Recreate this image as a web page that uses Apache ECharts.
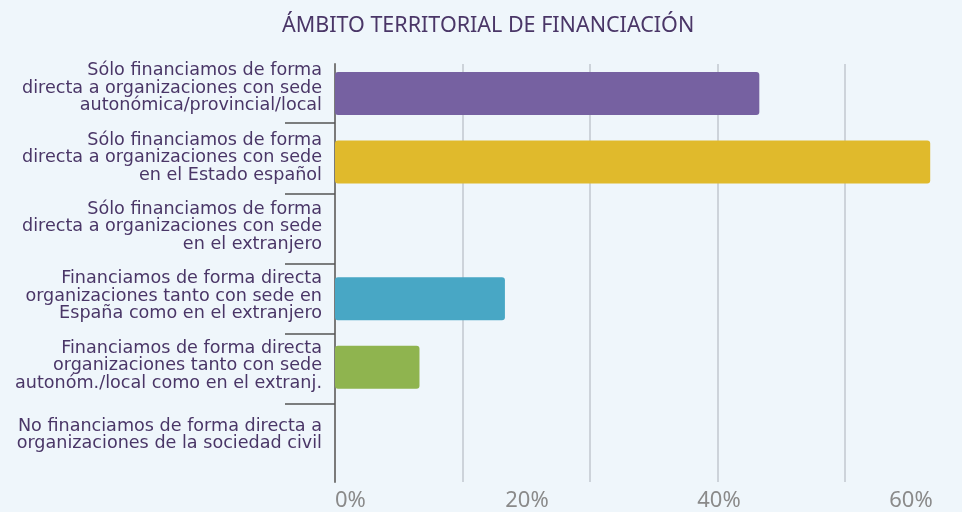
<!DOCTYPE html>
<html>
<head>
<meta charset="utf-8">
<script src="https://cdn.jsdelivr.net/npm/echarts@6/dist/echarts.min.js"></script>
<style>
html,body{margin:0;padding:0;background:#eff6fb;}
#c{width:962px;height:512px;}
</style>
</head>
<body>
<div id="c"></div>
<script>
const title = 'ÁMBITO TERRITORIAL DE FINANCIACIÓN';
const categories = [
  'Sólo financiamos de forma\ndirecta a organizaciones con sede\nautonómica/provincial/local',
  'Sólo financiamos de forma\ndirecta a organizaciones con sede\nen el Estado español',
  'Sólo financiamos de forma\ndirecta a organizaciones con sede\nen el extranjero',
  'Financiamos de forma directa\norganizaciones tanto con sede en\nEspaña como en el extranjero',
  'Financiamos de forma directa\norganizaciones tanto con sede\nautonóm./local como en el extranj.',
  'No financiamos de forma directa a\norganizaciones de la sociedad civil'
];
const values = [44.2, 62.0, 0, 17.7, 8.8, 0];
const barColors = ['#7661a1', '#e0ba2c', '#48a7c5', '#48a7c5', '#8fb44f', '#8fb44f'];
const tickLabels = ['0%', '20%', '40%', '60%'];

const FONT = '"Noto Sans", sans-serif';
const LFONT = '"DejaVu Sans", sans-serif';
const chart = echarts.init(document.getElementById('c'), null, {renderer: 'canvas'});
chart.setOption({
  backgroundColor: '#eff6fb',
  animation: false,
  title: {
    text: title,
    left: 277,
    top: 10,
    textStyle: {fontFamily: FONT, fontSize: 21.5, fontWeight: 'normal', color: '#4a3667'}
  },
  grid: [
    {left: 335, top: 59.2, height: 411.6, width: 627, containLabel: false},
    {left: 335, top: 64, height: 418, width: 627, containLabel: false},
    {left: 335, top: 123, height: 281, width: 100, containLabel: false},
    {left: 335, top: 53.5, height: 416, width: 10, containLabel: false}
  ],
  xAxis: [
    {
      gridIndex: 0, type: 'value', min: 0, max: 65.3125, interval: 20,
      axisLine: {show: false}, axisTick: {show: false}, splitLine: {show: false},
      axisLabel: {
        show: true, margin: 20, color: '#8a8a8a', fontFamily: FONT, fontSize: 22,
        showMaxLabel: false, alignMinLabel: 'left',
        formatter: function (v) { return tickLabels[Math.round(v / 20)] || ''; }
      }
    },
    {
      gridIndex: 1, type: 'value', min: 0, max: 4.9176, interval: 1,
      axisLine: {show: false}, axisTick: {show: false}, axisLabel: {show: false},
      splitLine: {show: true, showMinLine: false, showMaxLine: false, lineStyle: {color: '#cdd3da', width: 2}}
    },
    {gridIndex: 2, type: 'value', min: 0, max: 1, show: false},
    {gridIndex: 3, type: 'value', min: 0, max: 1, show: false}
  ],
  yAxis: [
    {
      gridIndex: 0, type: 'category', data: categories, inverse: true,
      axisLine: {show: false}, axisTick: {show: false}, axisLabel: {show: false}
    },
    {
      gridIndex: 1, type: 'value', min: 0, max: 1,
      axisLine: {show: true, lineStyle: {color: '#7a7a7a', width: 2}},
      axisTick: {show: false}, axisLabel: {show: false}, splitLine: {show: false}
    },
    {
      gridIndex: 2, type: 'value', min: 1, max: 5, interval: 1, inverse: true,
      axisLine: {show: false}, axisLabel: {show: false}, splitLine: {show: false},
      axisTick: {show: true, length: 50, lineStyle: {color: '#555555', width: 1.5}}
    },
    {
      gridIndex: 3, type: 'category', data: categories, inverse: true,
      axisLine: {show: false}, axisTick: {show: false},
      axisLabel: {
        margin: 13, color: '#4a3667', fontFamily: LFONT, fontSize: 17.6, lineHeight: 17.5,
        align: 'right'
      }
    }
  ],
  series: [{
    type: 'bar',
    xAxisIndex: 0, yAxisIndex: 0,
    data: values.map((v, i) => ({value: v, itemStyle: {color: barColors[i]}})),
    barWidth: 43,
    itemStyle: {borderRadius: 3},
    z: 5
  }]
});
</script>
</body>
</html>
